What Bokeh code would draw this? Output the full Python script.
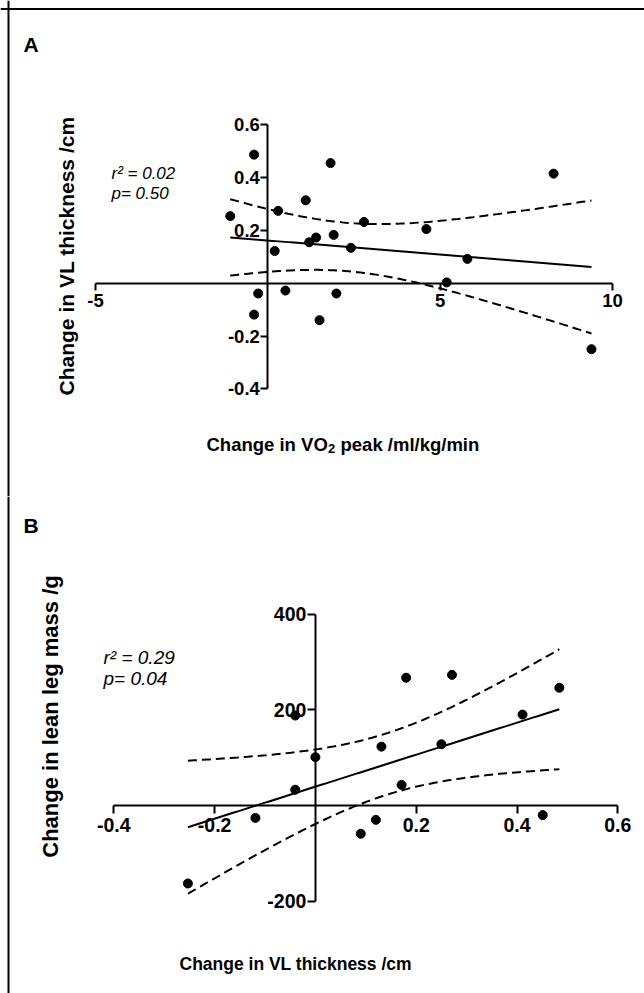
import numpy as np
from bokeh.plotting import figure
from bokeh.layouts import column
from bokeh.models import Label, Span, FixedTicker
from bokeh.embed import file_html
from bokeh.resources import INLINE

# ---------------- data ----------------
# Panel A: change in VO2 peak (ml/kg/min) vs change in VL thickness (cm)
vo2_change = [-1.09, -0.40, 0.30, 0.20, 1.10, 1.82, 1.20, 1.40, 1.91, 2.41, 2.79,
              4.60, 5.79, 5.19, 8.29, -0.28, 0.51, 1.99, -0.40, 1.50, 9.39]
vl_change_a = [0.254, 0.487, 0.274, 0.122, 0.314, 0.455, 0.155, 0.173, 0.183, 0.134, 0.232,
               0.205, 0.092, 0.003, 0.415, -0.039, -0.028, -0.039, -0.119, -0.140, -0.250]

# Panel B: change in VL thickness (cm) vs change in lean leg mass (g)
vl_change_b = [-0.040, -0.040, 0.000, 0.131, 0.180, 0.271, 0.250, 0.171, 0.411, 0.484,
               0.090, 0.120, 0.451, -0.119, -0.253]
lean_leg_change = [188, 33, 101, 123, 267, 273, 128, 43, 190, 246,
                   -59, -30, -20, -26, -163]

xticks_a = [-5, 5, 10]
yticks_a = [-0.4, -0.2, 0.2, 0.4, 0.6]
xticks_b = [-0.4, -0.2, 0.2, 0.4, 0.6]
yticks_b = [-200, 200, 400]

stats_a = ["r\u00b2 = 0.02", "p= 0.50"]
stats_b = ["r\u00b2 = 0.29", "p= 0.04"]

T_A = 2.093   # t(0.975, df=19)
T_B = 2.160   # t(0.975, df=13)

FONT = "Liberation Sans"


def fit_with_band(x, y, tcrit):
    x = np.asarray(x, float)
    y = np.asarray(y, float)
    n = len(x)
    b, a = np.polyfit(x, y, 1)
    xs = np.linspace(x.min(), x.max(), 120)
    yhat = a + b * xs
    resid = y - (a + b * x)
    s = np.sqrt(np.sum(resid ** 2) / (n - 2))
    sxx = np.sum((x - x.mean()) ** 2)
    se = s * np.sqrt(1.0 / n + (xs - x.mean()) ** 2 / sxx)
    return xs, yhat, yhat - tcrit * se, yhat + tcrit * se


def ranges(v0, p0, v1, p1, size, vertical=False):
    if not vertical:
        ppu = (p1 - p0) / (v1 - v0)
        start = v0 - p0 / ppu
        return start, start + size / ppu
    ppu = (p1 - p0) / (v0 - v1)
    end = v0 + p0 / ppu
    return end - size / ppu, end


def px_mapper(xr, yr, w, h):
    def fx(px):
        return xr[0] + px * (xr[1] - xr[0]) / w

    def fy(py):
        return yr[1] - py * (yr[1] - yr[0]) / h
    return fx, fy


def make_panel(w, h, xr, yr, xticks, yticks, xb, yb, tick_size, tick_out):
    p = figure(width=w, height=h, x_range=xr, y_range=yr, output_backend="svg",
               toolbar_location=None, min_border=0, title=None)
    p.grid.visible = False
    p.outline_line_color = None
    p.background_fill_color = "white"
    p.border_fill_color = "white"
    xa = p.xaxis[0]
    ya = p.yaxis[0]
    xa.fixed_location = 0
    ya.fixed_location = 0
    xa.ticker = FixedTicker(ticks=xticks)
    ya.ticker = FixedTicker(ticks=yticks)
    xa.major_label_overrides = {t: f"{t:g}" for t in xticks}
    ya.major_label_overrides = {t: f"{t:g}" for t in yticks}
    xa.bounds = xb
    ya.bounds = yb
    for ax in (xa, ya):
        ax.axis_line_width = 2
        ax.axis_line_color = "black"
        ax.major_tick_line_width = 2
        ax.major_tick_line_color = "black"
        ax.major_tick_out = tick_out
        ax.major_tick_in = 0
        ax.minor_tick_line_color = None
        ax.major_label_text_font = FONT
        ax.major_label_text_font_style = "bold"
        ax.major_label_text_font_size = tick_size
        ax.major_label_text_color = "black"
    xa.major_label_standoff = 4
    ya.major_label_standoff = 1
    return p


def add_fit(p, x, y, tcrit):
    xs, yhat, lo, hi = fit_with_band(x, y, tcrit)
    p.line(xs, yhat, line_color="black", line_width=2)
    p.line(xs, lo, line_color="black", line_width=2, line_dash="9 5")
    p.line(xs, hi, line_color="black", line_width=2, line_dash="9 5")
    r = p.scatter(x, y, size=9, color="black")
    r.level = "overlay"


def label(p, x, y, text, size, style, align="left", angle=0.0, baseline="middle"):
    p.add_layout(Label(x=x, y=y, text=text, text_font=FONT, text_font_size=size,
                       text_font_style=style, text_color="black", text_align=align,
                       text_baseline=baseline, angle=angle))


# ---------------- panel A ----------------
WA, HA = 644, 496
xr_a = ranges(-5, 95, 10, 612, WA)
yr_a = ranges(0.6, 124.3, -0.4, 388.3, HA, vertical=True)
pa = make_panel(WA, HA, xr_a, yr_a, xticks_a, yticks_a, (-5, 10), (-0.4, 0.6), "18.5px", 7)
add_fit(pa, vo2_change, vl_change_a, T_A)
fxa, fya = px_mapper(xr_a, yr_a, WA, HA)

pa.add_layout(Span(location=fxa(8), dimension="height", line_color="black", line_width=2))
pa.add_layout(Span(location=fya(8.5), dimension="width", line_color="black", line_width=2))

label(pa, fxa(30.5), fya(44), "A", "21px", "bold", "center")
label(pa, fxa(66), fya(255.5), "Change in VL thickness /cm", "21px", "bold", "center", np.pi / 2)
# x title with a true subscript: "Change in VO" + "2" + "peak /ml/kg/min"
label(pa, fxa(206), fya(443.5), "Change in VO", "18.5px", "bold", "left", baseline="alphabetic")
label(pa, fxa(327.5), fya(448), "2", "13px", "bold", "left", baseline="alphabetic")
label(pa, fxa(340), fya(443.5), "peak /ml/kg/min", "18.5px", "bold", "left", baseline="alphabetic")
label(pa, fxa(111), fya(173), stats_a[0], "17px", "italic", "left")
label(pa, fxa(111), fya(193), stats_a[1], "17px", "italic", "left")

# ---------------- panel B ----------------
WB, HB = 644, 497
xr_b = ranges(-0.4, 113.3, 0.6, 617.3, WB)
yr_b = ranges(400, 117.6, -200, 404.7, HB, vertical=True)
pb = make_panel(WB, HB, xr_b, yr_b, xticks_b, yticks_b, (-0.4, 0.6), (-200, 400), "19.5px", 8)
add_fit(pb, vl_change_b, lean_leg_change, T_B)
fxb, fyb = px_mapper(xr_b, yr_b, WB, HB)

pb.add_layout(Span(location=fxb(8), dimension="height", line_color="black", line_width=2))

label(pb, fxb(30.5), fyb(29), "B", "21px", "bold", "center")
label(pb, fxb(50), fyb(220), "Change in lean leg mass /g", "22px", "bold", "center", np.pi / 2)
label(pb, fxb(179), fyb(467), "Change in VL thickness /cm", "17.5px", "bold", "left")
label(pb, fxb(103), fyb(161), stats_b[0], "19px", "italic", "left")
label(pb, fxb(103), fyb(182), stats_b[1], "19px", "italic", "left")

layout = column(pa, pb, spacing=0)
open("out.html", "w").write(file_html(layout, INLINE))
